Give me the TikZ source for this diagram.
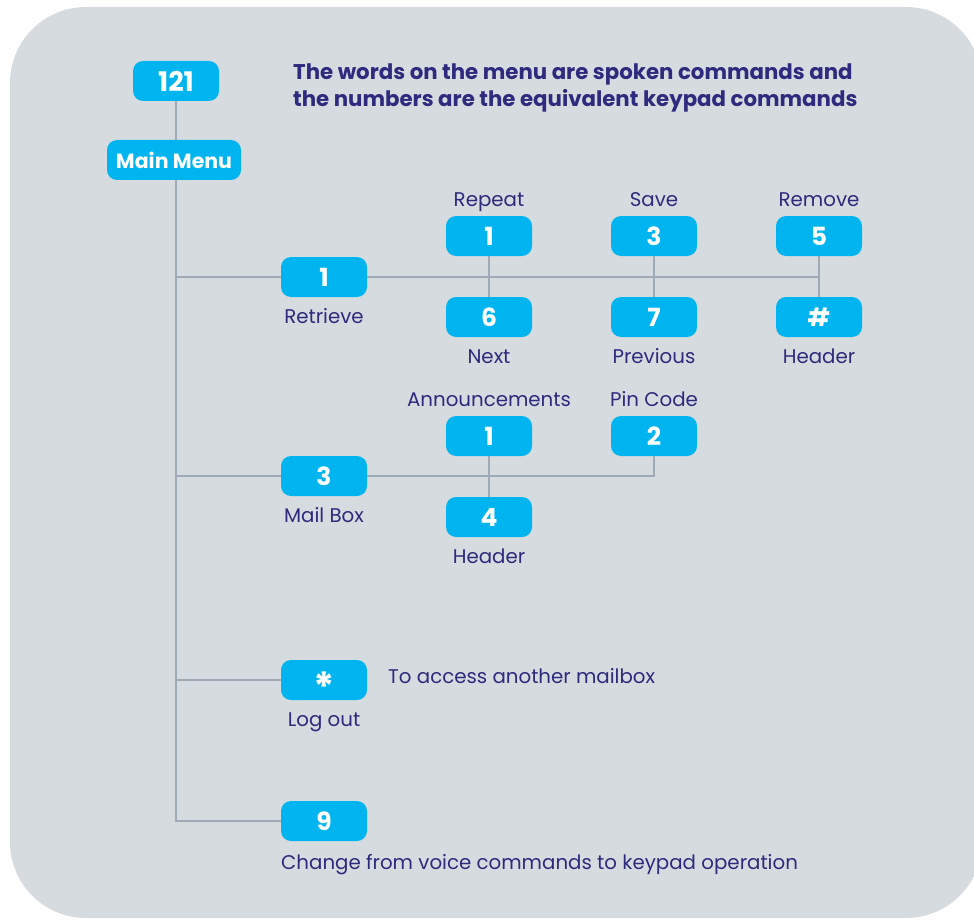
\documentclass[tikz,border=0pt]{standalone}
\usepackage{fontspec}
\setmainfont{Poppins}
\usepackage{xcolor}
\usepackage{tikz}
\definecolor{panel}{HTML}{D6DBDF}
\definecolor{keycyan}{HTML}{00B5EF}
\definecolor{inkblue}{HTML}{2E2A7D}
\definecolor{wiregray}{HTML}{9EABB6}

\begin{document}
\begin{tikzpicture}[x=1pt,y=-1pt,
		key/.style={fill=keycyan, rounded corners=10pt, minimum width=86pt, minimum height=40pt,
			inner sep=0pt, text=white, font=\fontsize{25}{25}\selectfont\bfseries},
		keytext/.style={inner sep=0pt, text height=18.5pt, text depth=3.5pt, text=inkblue,
			font=\fontsize{19.8}{22}\selectfont},
		wire/.style={draw=wiregray, line width=2pt}]
				\useasboundingbox (0,0) rectangle (974,920);
				\fill[panel, rounded corners=76pt] (10,7) rectangle (982,918);
				
				% top of the tree
				\node[key, font=\fontsize{27}{27}\selectfont\bfseries] (top) at (176,81) {121};
				\node[key, minimum width=134pt, font=\fontsize{20.5}{20.5}\selectfont\bfseries] (menu) at (174,160) {Main Menu};
				\node[inner sep=0pt, text=inkblue, anchor=north west, align=left, font=\fontsize{21.3}{27}\selectfont\bfseries] (note) at (293,64)
					{The words on the menu are spoken commands and\\the numbers are the equivalent keypad commands};
				
				% main keys
				\foreach \n/\y/\k/\t in
				{retrieve/277/1/Retrieve, mailbox/476/3/Mail Box, logout/680/{\smash{\raisebox{-21.5pt}{\scalebox{1.6}{*}}}}/Log out}{
					\node[key] (\n) at (324,\y) {\k};
					\node[keytext] (\n-txt) at (324,\y+39) {\t};
				}
				\node[key] (voice) at (324,821) {9};
				\node[keytext, anchor=west] (voice-txt) at (281,862) {Change from voice commands to keypad operation};
				\node[keytext, anchor=west] (logout-note) at (388,676) {To access another mailbox};
				
				% retrieve menu
				\foreach \n/\x/\a/\b/\s/\t in
				{rep/489/1/6/Repeat/Next, sav/654/3/7/Save/Previous, rem/819/5/\#/Remove/Header}{
					\node[key] (\n-up) at (\x,236) {\a};
					\node[key] (\n-dn) at (\x,317) {\b};
					\node[keytext] (\n-uptxt) at (\x,199) {\s};
					\node[keytext] (\n-dntxt) at (\x,356) {\t};
					\draw[wire] (\n-up) -- (\n-dn);
				}
				
				% mail box menu
				\node[key] (ann) at (489,436) {1};
				\node[key] (mbhead) at (489,517) {4};
				\node[key] (pin) at (654,436) {2};
				\node[keytext] (ann-txt) at (489,399) {Announcements};
				\node[keytext] (mbhead-txt) at (489,556) {Header};
				\node[keytext] (pin-txt) at (654,399) {Pin Code};
				
				% connectors
				\coordinate (trunk) at (176,821);
				\draw[wire] (top) -- (top |- menu.north);
				\draw[wire] (menu.south -| trunk) -- (trunk) -- (voice);
				\foreach \n in {retrieve, mailbox, logout}{
					\draw[wire] (trunk |- \n) -- (\n);
				}
				\draw[wire] (retrieve) -- (rem-up |- retrieve);
				\draw[wire] (ann) -- (mbhead);
				\draw[wire] (mailbox) -- (mailbox -| pin) -- (pin);
			\end{tikzpicture}
\end{document}
